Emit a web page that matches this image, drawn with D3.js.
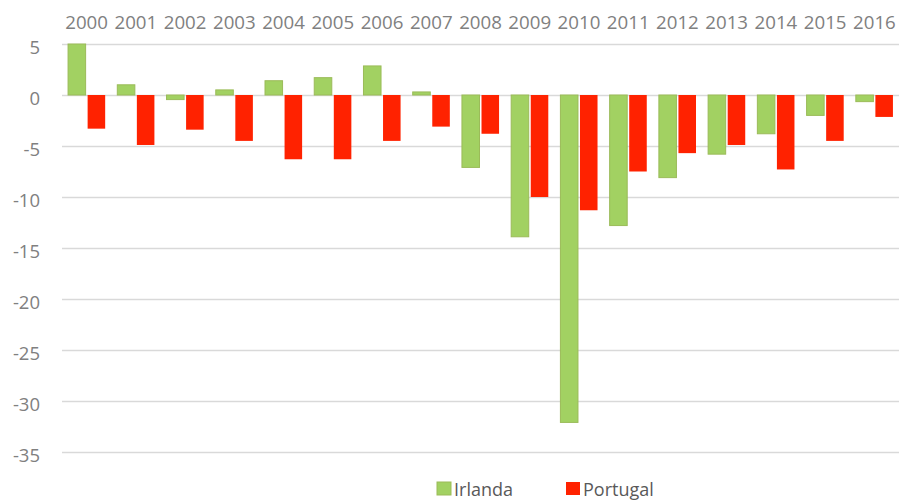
<!DOCTYPE html>
<html>
<head>
<meta charset="utf-8">
<script src="https://cdn.jsdelivr.net/npm/d3@7"></script>
<style>
  html, body { margin: 0; padding: 0; background: #fff; }
  svg { display: block; }
  text { font-family: "Open Sans", sans-serif; }
</style>
</head>
<body>
<svg id="chart" width="899" height="501"></svg>
<script>
const years = ["2000","2001","2002","2003","2004","2005","2006","2007","2008","2009","2010","2011","2012","2013","2014","2015","2016"];
const seriesNames = ["Irlanda", "Portugal"];
const irlanda = [5.0, 1.0, -0.45, 0.5, 1.4, 1.7, 2.85, 0.3, -7.1, -13.9, -32.1, -12.8, -8.1, -5.8, -3.8, -2.0, -0.65];
const portugal = [-3.3, -4.9, -3.4, -4.5, -6.3, -6.3, -4.5, -3.1, -3.8, -10.0, -11.3, -7.5, -5.7, -4.9, -7.3, -4.5, -2.15];
const yTicks = [5, 0, -5, -10, -15, -20, -25, -30, -35];
const colors = { "Irlanda": "#a2d162", "Portugal": "#ff2200" };
const strokes = { "Irlanda": "#9bbb59", "Portugal": "#ff2200" };

(function () {
const svg = d3.select("#chart");
const mLeft = 62, mRight = 899, mTop = 44, mBottom = 452;

const y = d3.scaleLinear().domain([-35, 5]).range([mBottom, mTop]);
const x0 = d3.scaleBand().domain(years).range([mLeft, mRight]).paddingInner(0).paddingOuter(0);
const x1 = d3.scaleBand().domain(seriesNames).range([0, x0.bandwidth()]).paddingInner(0.1026).paddingOuter(0.31);

// gridlines + y labels
const yAxis = d3.axisLeft(y).tickValues(yTicks).tickFormat(d => String(d))
  .tickSize(-(mRight - mLeft)).tickPadding(22);
const gy = svg.append("g").attr("transform", `translate(${mLeft},0)`).call(yAxis);
gy.select(".domain").remove();
gy.selectAll(".tick line").attr("stroke", "#d9d9d9").attr("stroke-width", 1.5);
gy.selectAll(".tick text").attr("fill", "#808080").attr("font-size", "18.5px")
  .attr("dy", "0.5em").attr("x", -22);

// top category labels
const xAxis = d3.axisTop(x0).tickSize(0).tickPadding(0);
const gx = svg.append("g").attr("transform", `translate(0,29)`).call(xAxis);
gx.select(".domain").remove();
gx.selectAll(".tick text").attr("fill", "#808080").attr("font-size", "18.7px").attr("dy", "0");

// bars
const data = years.map((yr, i) => ({ year: yr, values: [
  { key: "Irlanda", value: irlanda[i] },
  { key: "Portugal", value: portugal[i] }
]}));

const groups = svg.append("g").selectAll("g").data(data).join("g")
  .attr("transform", d => `translate(${x0(d.year)},0)`);
groups.selectAll("rect").data(d => d.values).join("rect")
  .attr("x", d => x1(d.key))
  .attr("width", x1.bandwidth())
  .attr("y", d => y(Math.max(0, d.value)))
  .attr("height", d => Math.abs(y(d.value) - y(0)))
  .attr("fill", d => colors[d.key])
  .attr("stroke", d => strokes[d.key])
  .attr("stroke-width", d => d.key === "Irlanda" ? 1 : 0);

// legend
const legendItems = [
  { key: "Irlanda", x: 437 },
  { key: "Portugal", x: 566 }
];
const lg = svg.append("g");
legendItems.forEach(it => {
  lg.append("rect").attr("x", it.x).attr("y", 482).attr("width", 14).attr("height", 13)
    .attr("fill", colors[it.key]).attr("stroke", strokes[it.key]).attr("stroke-width", it.key === "Irlanda" ? 1 : 0);
  lg.append("text").attr("x", it.x + 17).attr("y", 496).attr("fill", "#595959")
    .attr("font-size", "18px").text(it.key);
});
})();
</script>
</body>
</html>
